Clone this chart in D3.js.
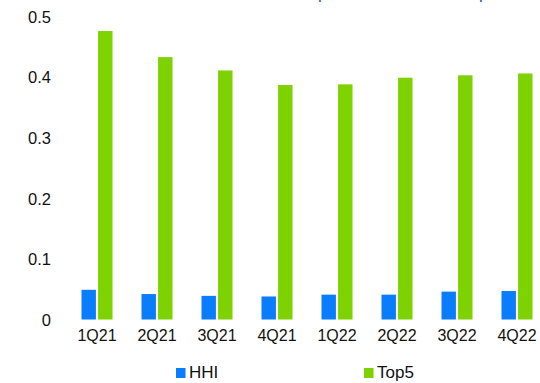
<!DOCTYPE html>
<html>
<head>
<meta charset="utf-8">
<script src="https://cdn.jsdelivr.net/npm/d3@7"></script>
<style>
  html, body { margin: 0; padding: 0; background: #fff; }
  svg { display: block; font-family: "Liberation Sans", Arial, sans-serif; }
</style>
</head>
<body>
<svg id="chart" width="540" height="383"></svg>
<script>
const categories = ["1Q21", "2Q21", "3Q21", "4Q21", "1Q22", "2Q22", "3Q22", "4Q22"];
const hhiValues  = [0.049, 0.042, 0.039, 0.038, 0.041, 0.041, 0.046, 0.047];
const top5Values = [0.476, 0.433, 0.411, 0.387, 0.388, 0.399, 0.403, 0.406];
const yTicks = [0, 0.1, 0.2, 0.3, 0.4, 0.5];
const seriesNames = ["HHI", "Top5"];
const seriesColors = ["#0a7dff", "#7dd200"];

const svg = d3.select("#chart");

const x = d3.scaleBand().domain(categories).range([67, 547]).paddingInner(0).paddingOuter(0);
const x1 = d3.scaleBand().domain(seriesNames).range([0, 31]).paddingInner(0.13);
const y = d3.scaleLinear().domain([0, 0.5]).range([319.5, 16.5]);

// cut-off title descenders at the top edge
svg.append("g").selectAll("text").data([318, 479]).join("text")
  .attr("x", d => d).attr("y", -1.5)
  .attr("font-size", 17).attr("fill", "#1f4fb4")
  .text("p");

// y axis labels
const yAxis = d3.axisLeft(y).tickValues(yTicks).tickSize(0).tickPadding(0)
  .tickFormat(d => d === 0 ? "0" : d3.format(".1f")(d));
svg.append("g").attr("transform", "translate(51,0)").call(yAxis)
  .call(g => g.select(".domain").remove())
  .call(g => g.selectAll("text").attr("font-size", 16.5).attr("fill", "#111")
    .attr("font-family", "Liberation Sans, Arial, sans-serif").attr("dy", "0.35em"));

// x axis labels
const xAxis = d3.axisBottom(x).tickSize(0).tickPadding(0);
svg.append("g").attr("transform", "translate(0,330)").call(xAxis)
  .call(g => g.select(".domain").remove())
  .call(g => g.selectAll("text").attr("font-size", 16).attr("fill", "#111")
    .attr("font-family", "Liberation Sans, Arial, sans-serif").attr("dy", "0.71em"));

// bars
const groups = svg.append("g").selectAll("g").data(categories).join("g")
  .attr("transform", d => `translate(${x(d) + x.bandwidth() / 2 - 15.5},0)`);
groups.selectAll("rect")
  .data((d, i) => [
    { s: "HHI", v: hhiValues[i], c: seriesColors[0] },
    { s: "Top5", v: top5Values[i], c: seriesColors[1] }
  ])
  .join("rect")
  .attr("x", d => x1(d.s))
  .attr("width", x1.bandwidth())
  .attr("y", d => y(d.v))
  .attr("height", d => y(0) - y(d.v))
  .attr("fill", d => d.c);

// legend
const legendX = [176, 364];
const legend = svg.append("g").selectAll("g").data(seriesNames).join("g")
  .attr("transform", (d, i) => `translate(${legendX[i]},368)`);
legend.append("rect").attr("width", 9.5).attr("height", 10).attr("fill", (d, i) => seriesColors[i]);
legend.append("text").attr("x", 13).attr("y", 10.3)
  .attr("font-size", 17).attr("fill", "#111").text(d => d);
</script>
</body>
</html>
